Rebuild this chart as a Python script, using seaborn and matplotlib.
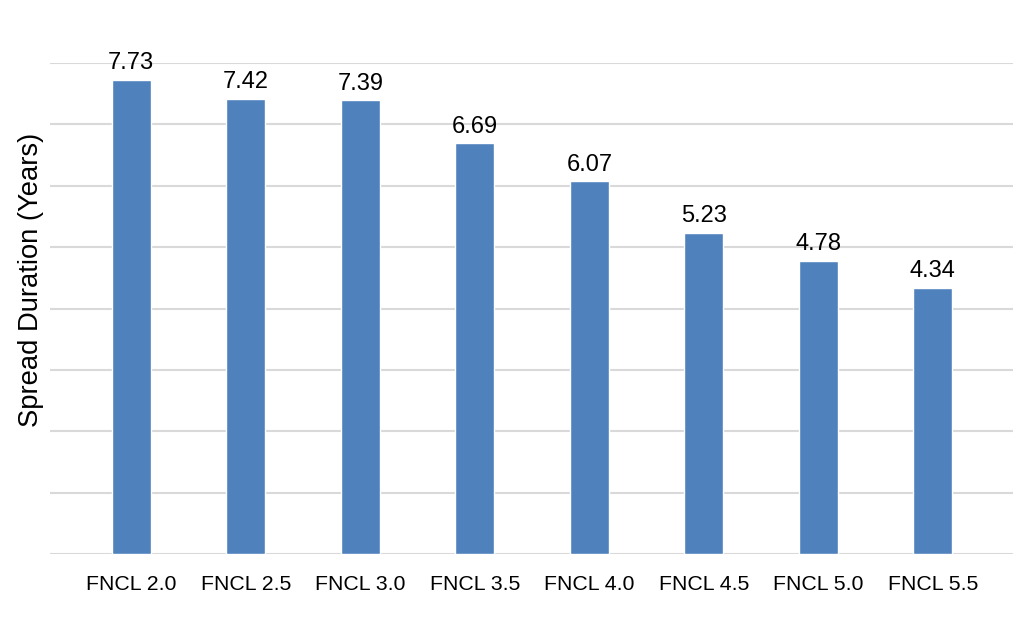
import matplotlib
matplotlib.use("Agg")
import matplotlib.pyplot as plt
import seaborn as sns
import pandas as pd

categories = ["FNCL 2.0", "FNCL 2.5", "FNCL 3.0", "FNCL 3.5", "FNCL 4.0", "FNCL 4.5", "FNCL 5.0", "FNCL 5.5"]
values = [7.73, 7.42, 7.39, 6.69, 6.07, 5.23, 4.78, 4.34]
y_ticks = [0, 1, 2, 3, 4, 5, 6, 7, 8]

sns.set_theme(style="white")
plt.rcParams['font.family'] = ['Liberation Sans', 'DejaVu Sans']

df = pd.DataFrame({"cat": categories, "val": values})

fig = plt.figure(figsize=(10.24, 6.2), dpi=100)
ax = fig.add_axes([50/1024, (620-554)/620, (1013-50)/1024, (554-63)/620])

sns.barplot(data=df, x="cat", y="val", color="#4F81BD", saturation=1, width=0.34, ax=ax, zorder=3)

ax.set_ylim(0, 8)
ax.set_xlim(-0.71, 7.70)
ax.set_yticks(y_ticks)
ax.set_yticklabels([])
ax.tick_params(axis="y", length=0)
ax.tick_params(axis="x", length=0, labelsize=15.3, pad=15, colors="black")
ax.yaxis.grid(True, color="#D9D9D9", linewidth=1.5, zorder=0)
ax.set_axisbelow(True)
for s in ax.spines.values():
    s.set_visible(False)
ax.set_xlabel("")
ax.set_ylabel("Spread Duration (Years)", fontsize=19.7, color="black")
ax.yaxis.set_label_coords(-0.006, 0.558)

for cont in ax.containers:
    ax.bar_label(cont, labels=[f"{v:.2f}" for v in values], fontsize=17, padding=4, color="black", clip_on=False)

fig.savefig("out.png", dpi=100)
